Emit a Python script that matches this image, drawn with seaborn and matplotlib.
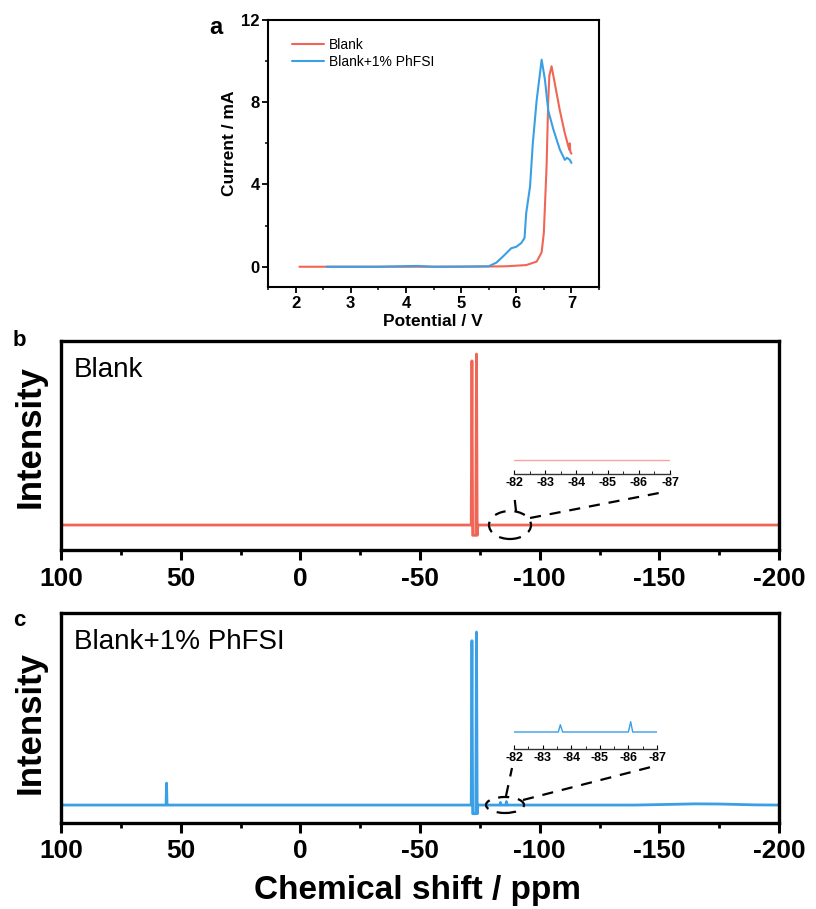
import numpy as np
import pandas as pd
import matplotlib
matplotlib.use("Agg")
import matplotlib.pyplot as plt
import seaborn as sns
from matplotlib.ticker import MultipleLocator, FixedLocator, NullLocator
from matplotlib.patches import Ellipse
from matplotlib.lines import Line2D

# ---------------- data ----------------
# panel a: LSV
blank_v = [2.07, 3.0, 4.0, 5.0, 5.8, 6.18, 6.37, 6.46, 6.5, 6.55, 6.58, 6.6, 6.64,
           6.7, 6.79, 6.88, 6.94, 6.96, 6.97, 6.98, 7.0]
blank_i = [0.0, 0.0, 0.0, 0.0, 0.02, 0.08, 0.25, 0.7, 1.65, 4.9, 8.1, 9.3, 9.75,
           8.9, 7.6, 6.5, 5.9, 5.7, 6.0, 5.6, 5.5]
phfsi_v = [2.56, 3.5, 4.2, 4.5, 5.5, 5.64, 5.76, 5.91, 6.0, 6.09, 6.15, 6.18, 6.25,
           6.3, 6.37, 6.43, 6.46, 6.52, 6.58, 6.67, 6.79, 6.88, 6.92, 6.97, 7.0]
phfsi_i = [0.0, 0.0, 0.04, 0.0, 0.02, 0.2, 0.5, 0.9, 0.97, 1.15, 1.4, 2.6, 3.9,
           6.0, 8.1, 9.4, 10.07, 9.1, 7.6, 6.7, 5.7, 5.2, 5.3, 5.2, 5.05]

# panel b: 19F NMR, Blank
b_ppm = [100, -71.4, -71.7, -72.0, -73.3, -73.6, -73.9, -74.2, -200]
b_int = [0.0, 0.0, 0.96, -0.06, -0.06, 1.0, -0.06, 0.0, 0.0]
b_zoom_ppm = [-82, -87]
b_zoom_int = [0.0, 0.0]

# panel c: 19F NMR, Blank+1% PhFSI
c_ppm = [100, 56.1, 55.9, 55.7, -71.4, -71.7, -72.0, -73.3, -73.6, -73.9, -74.2,
         -83.4, -83.6, -83.8, -85.9, -86.1, -86.3, -140, -155, -165, -175, -190, -200]
c_int = [0.0, 0.0, 0.127, 0.0, 0.0, 0.95, -0.05, -0.05, 1.0, -0.05, 0.0,
         0.0, 0.015, 0.0, 0.0, 0.02, 0.0, 0.0, 0.004, 0.007, 0.006, 0.001, 0.0]
c_zoom_ppm = [-82, -83.55, -83.62, -83.7, -86.0, -86.08, -86.15, -87]
c_zoom_int = [0.0, 0.0, 0.73, 0.0, 0.0, 1.03, 0.0, 0.0]

series_names = ["Blank", "Blank+1% PhFSI"]
nmr_ticks = [100, 50, 0, -50, -100, -150, -200]
zoom_ticks = [-82, -83, -84, -85, -86, -87]

RED = "#F06656"
BLUE = "#3A9FE5"

# ---------------- style ----------------
sns.set_theme(style="ticks")
plt.rcParams["font.family"] = ["Liberation Sans", "DejaVu Sans"]
plt.rcParams["axes.unicode_minus"] = False
plt.rcParams["text.color"] = "black"
plt.rcParams["axes.labelcolor"] = "black"
plt.rcParams["xtick.color"] = "black"
plt.rcParams["ytick.color"] = "black"
plt.rcParams["axes.edgecolor"] = "black"

W, H = 816, 909
fig = plt.figure(figsize=(W / 100, H / 100), dpi=100)
fig.patch.set_facecolor("white")


def rect(x0, y0, x1, y1):
    return [x0 / W, 1 - y1 / H, (x1 - x0) / W, (y1 - y0) / H]


def fx(x):
    return x / W


def fy(y):
    return 1 - y / H


# ---------------- panel a ----------------
ax_a = fig.add_axes(rect(268, 20, 599, 287.3))
df_a = pd.concat([
    pd.DataFrame({"V": blank_v, "I": blank_i, "s": series_names[0]}),
    pd.DataFrame({"V": phfsi_v, "I": phfsi_i, "s": series_names[1]}),
])
sns.lineplot(data=df_a, x="V", y="I", hue="s", palette=[RED, BLUE], sort=False,
             estimator=None, linewidth=1.5, ax=ax_a)
ax_a.xaxis.set_major_locator(MultipleLocator(1))
ax_a.xaxis.set_minor_locator(MultipleLocator(0.5))
ax_a.yaxis.set_major_locator(MultipleLocator(4))
ax_a.yaxis.set_minor_locator(MultipleLocator(2))
ax_a.set_xlim(1.5, 7.5)
ax_a.set_ylim(-1, 12)
for sp in ax_a.spines.values():
    sp.set_linewidth(1.5)
    sp.set_color("black")
ax_a.tick_params(which="major", direction="out", length=4, width=1.3, pad=2,
                 labelsize=12, colors="black")
ax_a.tick_params(which="minor", direction="out", length=2.5, width=1.1)
for lab in ax_a.get_xticklabels() + ax_a.get_yticklabels():
    lab.set_fontweight("bold")
ax_a.set_xlabel("")
ax_a.set_ylabel("")
leg = ax_a.legend(loc="upper left", bbox_to_anchor=(0.055, 0.955), frameon=False,
                  fontsize=10, handlelength=2.3, handletextpad=0.4,
                  labelspacing=0.25, borderaxespad=0)
for ln in leg.get_lines():
    ln.set_linewidth(1.5)
for t in leg.get_texts():
    t.set_color("black")
fig.text(fx(433), fy(322), "Potential / V", ha="center", va="center",
         fontsize=12.5, fontweight="bold")
fig.text(fx(230), fy(143), "Current / mA", ha="center", va="center",
         rotation=90, fontsize=12.5, fontweight="bold")
fig.text(fx(216), fy(27), "a", ha="center", va="center", fontsize=17,
         fontweight="bold")


# ---------------- panels b, c ----------------
def nmr_axes(box, ppm, inten, color, ylim, label):
    ax = fig.add_axes(rect(*box))
    df = pd.DataFrame({"ppm": ppm, "I": inten})
    sns.lineplot(data=df, x="ppm", y="I", sort=False, estimator=None,
                 color=color, linewidth=2.0, ax=ax)
    ax.set_xlim(100, -200)
    ax.set_ylim(*ylim)
    ax.xaxis.set_major_locator(FixedLocator(nmr_ticks))
    ax.xaxis.set_minor_locator(MultipleLocator(25))
    ax.yaxis.set_major_locator(NullLocator())
    for sp in ax.spines.values():
        sp.set_linewidth(2.4)
        sp.set_color("black")
    ax.tick_params(axis="x", which="major", direction="out", length=7, width=2.2,
                   pad=5, labelsize=19, colors="black")
    ax.tick_params(axis="x", which="minor", direction="out", length=3.5, width=2.0)
    for lab in ax.get_xticklabels():
        lab.set_fontweight("bold")
    ax.set_xlabel("")
    ax.set_ylabel("")
    ax.text(0.018, 0.86, label, transform=ax.transAxes, fontsize=20,
            ha="left", va="center", color="black")
    return ax


def zoom_axes(box, ppm, inten, color, ylim):
    ax = fig.add_axes(rect(*box))
    ax.patch.set_alpha(0)
    df = pd.DataFrame({"ppm": ppm, "I": inten})
    sns.lineplot(data=df, x="ppm", y="I", sort=False, estimator=None,
                 color=color, linewidth=1.0, ax=ax)
    ax.set_xlim(-82, -87)
    ax.set_ylim(*ylim)
    for k in ["left", "right", "top"]:
        ax.spines[k].set_visible(False)
    ax.spines["bottom"].set_linewidth(1.0)
    ax.spines["bottom"].set_color("#333333")
    ax.xaxis.set_major_locator(FixedLocator(zoom_ticks))
    ax.xaxis.set_minor_locator(MultipleLocator(0.5))
    ax.yaxis.set_major_locator(NullLocator())
    ax.tick_params(axis="x", which="major", direction="in", length=3, width=0.8,
                   pad=2, labelsize=9, colors="black")
    ax.tick_params(axis="x", which="minor", direction="in", length=2, width=0.6)
    for lab in ax.get_xticklabels():
        lab.set_fontweight("bold")
    ax.set_xlabel("")
    ax.set_ylabel("")
    return ax


def dashed(x0, y0, x1, y1):
    fig.add_artist(Line2D([fx(x0), fx(x1)], [fy(y0), fy(y1)], transform=fig.transFigure,
                          color="black", linewidth=1.6, linestyle=(0, (5, 4))))


def dashed_ellipse(cx, cy, w, h):
    fig.add_artist(Ellipse((fx(cx), fy(cy)), w / W, h / H, transform=fig.transFigure,
                           fill=False, edgecolor="black", linewidth=1.6,
                           linestyle=(0, (5, 4))))


ax_b = nmr_axes((61, 341, 779, 550), b_ppm, b_int, RED, (-0.146, 1.076), "Blank")
ax_c = nmr_axes((61, 613, 779, 822.7), c_ppm, c_int, BLUE, (-0.102, 1.11),
                "Blank+1% PhFSI")

zoom_axes((514, 454, 670, 474), b_zoom_ppm, b_zoom_int, "#F5A59C", (-1.4, 0.6))
zoom_axes((514, 719, 657, 749), c_zoom_ppm, c_zoom_int, BLUE, (-1.7, 1.3))

# zoom indicators
dashed_ellipse(510, 525, 42, 28)
dashed(516, 511, 514, 493)
dashed(530, 518, 659, 493)
dashed_ellipse(505, 805, 38, 16)
dashed(506, 796, 512, 768)
dashed(523, 800, 651, 767)

# labels
fig.text(fx(19), fy(341), "b", ha="center", va="center", fontsize=16, fontweight="bold")
fig.text(fx(19), fy(620), "c", ha="center", va="center", fontsize=16, fontweight="bold")
fig.text(fx(30), fy(436), "Intensity", ha="center", va="center", rotation=90,
         fontsize=25, fontweight="bold")
fig.text(fx(30), fy(723), "Intensity", ha="center", va="center", rotation=90,
         fontsize=25, fontweight="bold")
fig.text(fx(418), fy(890), "Chemical shift / ppm", ha="center", va="center",
         fontsize=24, fontweight="bold")

fig.savefig("out.png", dpi=100, facecolor="white")
